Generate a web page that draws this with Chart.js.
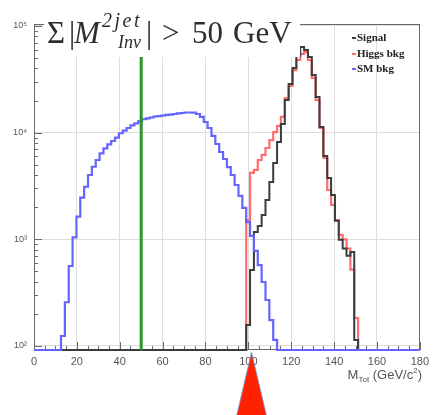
<!DOCTYPE html>
<html><head><meta charset="utf-8">
<script src="https://cdn.jsdelivr.net/npm/chart.js@4"></script>
<style>
html,body{margin:0;padding:0;background:#fff;}
#wrap{position:relative;width:434px;height:415px;overflow:hidden;background:#fff;}
canvas{position:absolute;left:0;top:0;}
#title{position:absolute;left:44px;top:0;width:256px;height:57px;background:#fff;color:#2e2e2e;font-family:'Liberation Serif','DejaVu Serif',serif;}
#title span{position:absolute;line-height:1;white-space:nowrap;}
#legend{position:absolute;left:352px;top:0;font-family:'Liberation Serif','DejaVu Serif',serif;font-weight:bold;font-size:11px;color:#222;}
#legend div{position:absolute;left:0;white-space:nowrap;line-height:1;}
#legend i{display:inline-block;width:4px;height:2px;vertical-align:middle;margin-right:1px;}
#xtitle{position:absolute;right:12px;top:367px;font-family:'Liberation Sans',Arial,sans-serif;font-size:13px;color:#555;line-height:1;white-space:nowrap;}
#xtitle sub{font-size:8px;vertical-align:-3px;}
#xtitle sup{font-size:8px;vertical-align:6px;}
</style></head>
<body>
<div id="wrap">
<canvas id="c" width="434" height="415"></canvas>
<div id="title">
  <span style="left:3px;top:17px;font-size:31px;">Σ</span>
  <span style="left:25px;top:17px;font-size:31px;">|</span>
  <span style="left:30px;top:17px;font-size:31px;font-style:italic;">M</span>
  <span style="left:58px;top:10px;font-size:20px;font-style:italic;letter-spacing:2.5px;">2jet</span>
  <span style="left:74px;top:33px;font-size:18px;font-style:italic;">Inv</span>
  <span style="left:102px;top:17px;font-size:31px;">|</span>
  <span style="left:118px;top:17px;font-size:31px;">&gt;</span>
  <span style="left:148px;top:17px;font-size:31px;">50</span>
  <span style="left:189px;top:17px;font-size:31px;">GeV</span>
</div>
<div id="legend"></div>
<div id="xtitle">M<sub>Tot</sub> (GeV/c<sup>2</sup>)</div>
</div>
<script>
// ---- data (100 bins, 0..180 GeV) ----
const binLow = 0;
const binWidth = 1.8;
const seriesNames = ['Signal', 'Higgs bkg', 'SM bkg'];
const signal = [
  0,0,0,0,0,0,0,0,0,0,
  0,0,0,0,0,0,0,0,0,0,
  0,0,0,0,0,0,0,0,0,0,
  0,0,0,0,0,0,0,0,0,0,
  0,0,0,0,0,0,0,0,0,0,
  0,0,0,0,0,157,516,1172,1334,1690,
  2340,3447,5195,8175,12050,20230,28580,40360,52350,63550,
  59550,51170,34760,21600,11300,6040,3760,2600,1490,990,
  820,700,760,114,0,0,0,0,0,0,
  0,0,0,0,0,0,0,0,0,0
];
const higgsBkg = [
  0,0,0,0,0,0,0,0,0,0,
  0,0,0,0,0,0,0,0,0,0,
  0,0,0,0,0,0,0,0,0,0,
  0,0,0,0,0,0,0,0,0,0,
  0,0,0,0,0,0,0,0,0,0,
  0,0,0,0,0,1517,4190,4470,5540,6180,
  7180,8520,10130,11590,14050,21100,27400,38650,48000,54800,
  57000,48000,32560,20230,11060,5790,2900,2100,1517,1100,
  1000,820,520,183,0,0,0,0,0,0,
  0,0,0,0,0,0,0,0,0,0
];
const smBkg = [
  0,0,0,0,0,0,0,124,257,562,
  1045,1630,2455,3110,4010,4790,5540,6400,7130,7780,
  8350,8970,9870,10430,11060,11720,12240,12790,13360,13600,
  13870,14170,14320,14490,14660,14740,14960,15140,15290,15450,
  15450,15380,14960,14030,12590,11060,9310,7830,6590,5660,
  4760,4010,3230,2550,1970,1450,1075,778,574,398,
  270,175,114,0,0,0,0,0,0,0,
  0,0,0,0,0,0,0,0,0,0,
  0,0,0,0,0,0,0,0,0,0,
  0,0,0,0,0,0,0,0,0,0
];
const cutValue = 50;          // green cut line, GeV
const markerValue = 101.5;    // red arrow position, GeV
const xTickValues = [0,20,40,60,80,100,120,140,160,180];
const yTickValues = [1e2,1e3,1e4,1e5];
const yTickLabels = ['10²','10³','10⁴','10⁵'];
const xMin = 0, xMax = 180, yMin = 91.7, yMax = 104400;

// ---- styles ----
const colSignal = 'rgb(60,60,60)';
const colHiggs = 'rgb(255,110,110)';
const colSM = 'rgb(100,100,255)';
const colCut = 'rgb(40,150,40)';
const gridColor = 'rgb(222,222,222)';
const frameColor = 'rgb(105,105,105)';

function toSteps(values){
  const pts = values.map((v,i)=>({x: binLow + i*binWidth, y: v > 0 ? v : yMin}));
  const last = values[values.length-1];
  pts.push({x: binLow + values.length*binWidth, y: last > 0 ? last : yMin});
  return pts;
}

// legend (HTML text)
const legendColors = [colSignal, colHiggs, colSM];
const legendTops = [32, 48, 63];
const lg = document.getElementById('legend');
seriesNames.forEach((n,i)=>{
  const d = document.createElement('div');
  d.style.top = legendTops[i] + 'px';
  d.innerHTML = '<i style="background:'+legendColors[i]+'"></i>' + n;
  lg.appendChild(d);
});

const framePlugin = {
  id: 'frame',
  beforeDatasetsDraw(chart){
    const {ctx, chartArea: a, scales: {x, y}} = chart;
    ctx.save();
    ctx.strokeStyle = frameColor;
    ctx.lineWidth = 1;
    // x ticks (inside, pointing up)
    for (let v = xMin; v <= xMax; v += 5){
      const px = Math.round(x.getPixelForValue(v)) + 0.5;
      const len = (v % 20 === 0) ? 8 : 4;
      ctx.beginPath(); ctx.moveTo(px, a.bottom); ctx.lineTo(px, a.bottom - len); ctx.stroke();
    }
    // y ticks (inside, pointing right)
    for (let e = 1; e <= 5; e++){
      for (let m = 1; m <= 9; m++){
        const val = m * Math.pow(10, e);
        if (val < yMin || val > yMax) continue;
        const py = Math.round(y.getPixelForValue(val)) + 0.5;
        const len = (m === 1) ? 8 : 4;
        ctx.beginPath(); ctx.moveTo(a.left, py); ctx.lineTo(a.left + len, py); ctx.stroke();
      }
    }
    ctx.strokeRect(Math.round(a.left)+0.5, Math.round(a.top)+0.5, Math.round(a.right-a.left)-1, Math.round(a.bottom-a.top)-1);
    ctx.restore();
  },
  afterDraw(chart){
    const {ctx, chartArea: a, scales: {x}} = chart;
    const px = x.getPixelForValue(markerValue);
    ctx.save();
    ctx.beginPath();
    ctx.moveTo(px, a.bottom + 2);
    ctx.lineTo(px - 15, chart.height + 1);
    ctx.lineTo(px + 15, chart.height + 1);
    ctx.closePath();
    ctx.fillStyle = 'rgb(255,34,0)';
    ctx.fill();
    ctx.strokeStyle = 'rgba(110,160,230,0.8)';
    ctx.lineWidth = 1;
    ctx.stroke();
    ctx.restore();
  }
};

new Chart(document.getElementById('c'), {
  type: 'line',
  data: {
    datasets: [
      {label: seriesNames[0], data: toSteps(signal), borderColor: colSignal, borderWidth: 2, stepped: 'before', pointRadius: 0, fill: false, order: 1, clip: false},
      {label: seriesNames[1], data: toSteps(higgsBkg), borderColor: colHiggs, borderWidth: 2.2, stepped: 'before', pointRadius: 0, fill: false, order: 2, clip: false},
      {label: seriesNames[2], data: toSteps(smBkg), borderColor: colSM, borderWidth: 2.2, stepped: 'before', pointRadius: 0, fill: false, order: 0, clip: false},
      {label: 'cut', data: [{x: cutValue, y: yMin}, {x: cutValue, y: yMax}], borderColor: colCut, borderWidth: 3, pointRadius: 0, fill: false, order: -1, clip: false}
    ]
  },
  options: {
    responsive: false,
    animation: false,
    devicePixelRatio: 1,
    layout: {padding: {left: 0, right: 12, top: 24, bottom: 0}},
    plugins: {legend: {display: false}, tooltip: {enabled: false}},
    scales: {
      x: {
        type: 'linear', min: xMin, max: xMax,
        afterBuildTicks(s){ s.ticks = xTickValues.map(v => ({value: v})); },
        ticks: {font: {family: 'Liberation Sans', size: 11}, color: '#555', padding: 5, maxRotation: 0, autoSkip: false},
        grid: {color: gridColor, drawTicks: false},
        border: {display: false},
        afterFit(s){ s.height = 65; }
      },
      y: {
        type: 'logarithmic', min: yMin, max: yMax,
        afterBuildTicks(s){ s.ticks = yTickValues.map(v => ({value: v})); },
        ticks: {callback: (v, i) => yTickLabels[i], font: {family: 'Liberation Sans', size: 9}, color: '#555', padding: 7},
        grid: {color: gridColor, drawTicks: false},
        border: {display: false},
        afterFit(s){ s.width = 34; }
      }
    }
  },
  plugins: [framePlugin]
});
</script>
</body></html>
